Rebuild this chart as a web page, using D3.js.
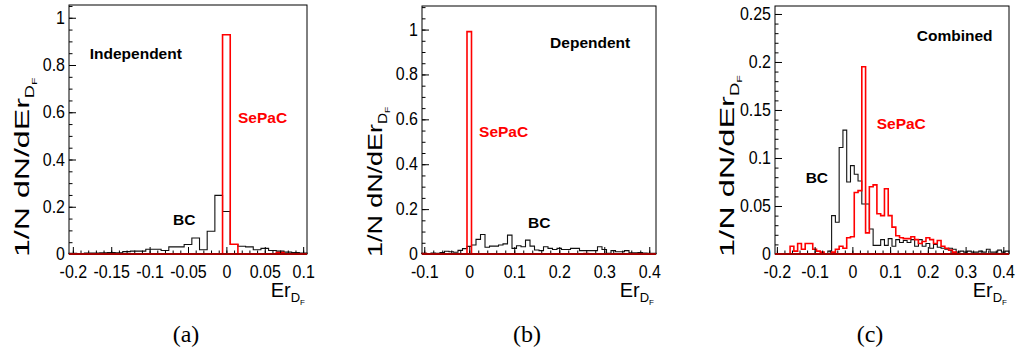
<!DOCTYPE html>
<html>
<head>
<meta charset="utf-8">
<script src="https://cdn.jsdelivr.net/npm/d3@7"></script>
<style>
  body { margin: 0; background: #fff; }
  svg text { font-family: "Liberation Sans", Arial, Helvetica, sans-serif; }
  .cap { font-family: "Liberation Serif", "Times New Roman", serif; }
</style>
</head>
<body>
<svg id="fig" width="1023" height="348"></svg>
<script>
// ---- data: normalised bin contents, bins of 0.01 starting at binLo ----
// (a) Independent, bins centred on -0.20 ... 0.10
const bcA = [0.003, 0.002, 0.004, 0.004, 0.005, 0.006, 0.005, 0.010,
  0.012, 0.012, 0.020, 0.020, 0.015, 0.030, 0.030, 0.040, 0.068, 0.018, 0.096, 0.248, 0.180,
  0.040, 0.033, 0.030, 0.018, 0.024, 0.015, 0.012, 0.008, 0.006, 0.004];
const sepacA = [0, 0, 0, 0, 0, 0, 0, 0, 0, 0, 0, 0, 0, 0, 0, 0, 0, 0, 0, 0, 0.928,
  0.041, 0, 0, 0, 0, 0, 0.006, 0, 0, 0];

// (b) Dependent, bins centred on -0.10 ... 0.41
const bcB = [0.003, 0.002, 0.004, 0.003, 0.006, 0.012, 0.010, 0.008, 0.016, 0.024,
  0.034, 0.040, 0.065, 0.087, 0.030, 0.035, 0.035, 0.040, 0.045, 0.084,
  0.025, 0.037, 0.032, 0.062, 0.035, 0.018, 0.015, 0.032, 0.025, 0.020,
  0.025, 0.020, 0.020, 0.025, 0.025, 0.015, 0.015, 0.015, 0.015, 0.032,
  0.020, 0.003, 0.015, 0.010, 0.010, 0.015, 0.005, 0.005, 0.006, 0.004,
  0.003, 0.003];
const sepacB = [0.002, 0, 0, 0, 0, 0, 0, 0, 0, 0, 0.991, 0, 0, 0, 0, 0, 0, 0, 0, 0,
  0, 0, 0, 0, 0, 0, 0, 0, 0, 0, 0, 0, 0, 0, 0, 0, 0.002, 0, 0, 0,
  0, 0, 0, 0, 0, 0, 0, 0, 0, 0, 0, 0];

// (c) Combined, bins centred on -0.20 ... 0.41
const bcC = [0, 0, 0, 0, 0, 0, 0, 0, 0, 0, 0, 0, 0, 0,
  0.003, 0.040, 0.033, 0.111, 0.129, 0.075, 0.092, 0.083, 0.076, 0.052, 0.052,
  0.026, 0.009, 0.009, 0.015, 0.009, 0.016, 0.008, 0.015, 0.012, 0.014,
  0.012, 0.015, 0.008, 0.015, 0.008, 0.011, 0.006, 0.010, 0.007, 0.006,
  0.005, 0.006, 0.005, 0.002, 0.003, 0.002, 0.003, 0.002, 0.002, 0.003,
  0.002, 0.005, 0.002, 0.002, 0.004, 0.002, 0.003];
const sepacC = [0, 0, 0, 0, 0.008, 0.003, 0.011, 0.005, 0.011, 0.011, 0.005, 0.003,
  0.002, 0, 0, 0.002, 0.005, 0.008, 0.006, 0.017, 0.018, 0.064, 0.066, 0.195,
  0.022, 0.070, 0.072, 0.042, 0.040, 0.068, 0.040, 0.028, 0.019, 0.017, 0.016,
  0.016, 0.018, 0.015, 0.011, 0.013, 0.017, 0.015, 0.011, 0.014, 0.008,
  0.006, 0.004, 0.002, 0, 0, 0, 0, 0, 0, 0, 0, 0, 0, 0, 0, 0, 0];

// ---- tick values ----
const xTicksA = [-0.2, -0.15, -0.1, -0.05, 0, 0.05, 0.1];
const xTicksB = [-0.1, 0, 0.1, 0.2, 0.3, 0.4];
const xTicksC = [-0.2, -0.1, 0, 0.1, 0.2, 0.3, 0.4];
const yTicksAB = [0, 0.2, 0.4, 0.6, 0.8, 1];
const yTicksC = [0, 0.05, 0.1, 0.15, 0.2, 0.25];

const titles = ['Independent', 'Dependent', 'Combined'];
const captions = ['(a)', '(b)', '(c)'];

const panels = [
  { bc: bcA, sepac: sepacA, binLo: -0.205, xDomain: [-0.205, 0.105], yDomain: [0, 1.054],
    left: 69, right: 307, top: 5, bottom: 254,
    xTicks: xTicksA, xMinor: 0.01, yTicks: yTicksAB, yMinor: 0.05,
    title: titles[0], titlePos: [-0.178, 0.825], sepacPos: [0.0151, 0.554], bcPos: [-0.0695, 0.123],
    yTitle: { x: 29, y: 257, s: 1.53 }, caption: captions[0], capX: 186 },
  { bc: bcB, sepac: sepacB, binLo: -0.105, xDomain: [-0.105, 0.415], yDomain: [0, 1.105],
    left: 422, right: 656, top: 6, bottom: 254,
    xTicks: xTicksB, xMinor: 0.02, yTicks: yTicksAB, yMinor: 0.05,
    title: titles[1], titlePos: [0.1797, 0.919], sepacPos: [0.0218, 0.522], bcPos: [0.1305, 0.117],
    yTitle: { x: 382, y: 257, s: 1.28 }, caption: captions[1], capX: 527 },
  { bc: bcC, sepac: sepacC, binLo: -0.205, xDomain: [-0.205, 0.415], yDomain: [0, 0.2583],
    left: 775, right: 1009, top: 6, bottom: 254,
    xTicks: xTicksC, xMinor: 0.02, yTicks: yTicksC, yMinor: 0.01,
    title: titles[2], titlePos: [0.1705, 0.2222], sepacPos: [0.0645, 0.1302], bcPos: [-0.1237, 0.0743],
    yTitle: { x: 734, y: 257, s: 1.55 }, caption: captions[2], capX: 870 }
];

const BIN = 0.01;
const svg = d3.select('#fig');
const fmt = d => String(+d.toFixed(3));

function minorTicks(domain, step) {
  const out = [];
  const i0 = Math.ceil(domain[0] / step - 1e-6), i1 = Math.floor(domain[1] / step + 1e-6);
  for (let i = i0; i <= i1; i++) out.push(+(i * step).toFixed(4));
  return out;
}

// outline of a histogram, ROOT style (starts and ends on the axis)
function stepPoints(vals, lo) {
  const pts = [[lo, 0]];
  vals.forEach((v, i) => {
    const a = lo + i * BIN;
    pts.push([a, v], [a + BIN, v]);
  });
  pts.push([lo + vals.length * BIN, 0]);
  return pts;
}

function drawPanel(p) {
  const g = svg.append('g');
  const x = d3.scaleLinear().domain(p.xDomain).range([p.left, p.right]);
  const y = d3.scaleLinear().domain(p.yDomain).range([p.bottom, p.top]);
  const line = d3.line().x(d => x(d[0])).y(d => y(d[1]));

  g.append('path').attr('d', line(stepPoints(p.bc, p.binLo)))
    .attr('fill', 'none').attr('stroke', '#111').attr('stroke-width', 1.1);
  g.append('path').attr('d', line(stepPoints(p.sepac, p.binLo)))
    .attr('fill', 'none').attr('stroke', '#ff0000').attr('stroke-width', 1.6);

  // ticks point inwards, like ROOT
  const xMaj = g.append('g').attr('transform', `translate(0,${p.bottom})`)
    .call(d3.axisBottom(x).tickValues(p.xTicks).tickSize(-7).tickFormat(fmt));
  g.append('g').attr('transform', `translate(0,${p.bottom})`)
    .call(d3.axisBottom(x).tickValues(minorTicks(p.xDomain, p.xMinor)).tickSize(-3.5).tickFormat(''));
  const yMaj = g.append('g').attr('transform', `translate(${p.left},0)`)
    .call(d3.axisLeft(y).tickValues(p.yTicks).tickSize(-7).tickFormat(fmt));
  g.append('g').attr('transform', `translate(${p.left},0)`)
    .call(d3.axisLeft(y).tickValues(minorTicks(p.yDomain, p.yMinor)).tickSize(-3.5).tickFormat(''));
  g.selectAll('.domain').remove();
  g.selectAll('.tick line').attr('stroke', '#000');
  // the labels are a little taller than wide in the original
  xMaj.selectAll('text').attr('y', 0).attr('dy', 0)
    .attr('transform', 'translate(0,23.5) scale(1,1.1)');
  yMaj.selectAll('text').attr('x', 0).attr('dy', 0)
    .attr('transform', 'translate(-4,5.5) scale(1,1.12)');
  [xMaj, yMaj].forEach(a => a.selectAll('text')
    .attr('font-family', '"Liberation Sans", Arial, sans-serif').attr('font-size', 16).attr('fill', '#000'));

  // frame
  g.append('rect').attr('x', p.left).attr('y', p.top)
    .attr('width', p.right - p.left).attr('height', p.bottom - p.top)
    .attr('fill', 'none').attr('stroke', '#000').attr('stroke-width', 1);
  g.append('line').attr('x1', p.left).attr('x2', p.right).attr('y1', p.bottom).attr('y2', p.bottom)
    .attr('stroke', '#a00000').attr('stroke-width', 2);

  // annotations
  g.append('text').attr('x', x(p.titlePos[0])).attr('y', y(p.titlePos[1]))
    .attr('font-weight', 'bold').attr('font-size', 15.5).text(p.title);
  g.append('text').attr('x', x(p.sepacPos[0])).attr('y', y(p.sepacPos[1]))
    .attr('font-weight', 'bold').attr('font-size', 15.5).attr('fill', '#ff0000').text('SePaC');
  g.append('text').attr('x', x(p.bcPos[0])).attr('y', y(p.bcPos[1]))
    .attr('font-weight', 'bold').attr('font-size', 15.5).text('BC');

  // x title Er_{D_F}, right aligned at the frame end
  const xt = g.append('text').attr('x', p.right - 2).attr('y', 297)
    .attr('text-anchor', 'end').attr('font-size', 20);
  xt.append('tspan').text('Er');
  xt.append('tspan').attr('font-size', 13).attr('dy', 5).text('D');
  xt.append('tspan').attr('font-size', 8).attr('dy', 3).text('F');

  // y title 1/N dN/dEr_{D_F}, stretched along its length
  const yt = g.append('g')
    .attr('transform', `translate(${p.yTitle.x},${p.yTitle.y}) rotate(-90) scale(${p.yTitle.s},1)`)
    .append('text').attr('font-size', 21);
  yt.append('tspan').text('1/N dN/dEr');
  yt.append('tspan').attr('font-size', 12).attr('dy', 5).text('D');
  yt.append('tspan').attr('font-size', 8).attr('dy', 3).text('F');

  svg.append('text').attr('class', 'cap').attr('x', p.capX).attr('y', 342)
    .attr('text-anchor', 'middle').attr('font-size', 24).text(p.caption);
}

panels.forEach(drawPanel);
</script>
</body>
</html>
